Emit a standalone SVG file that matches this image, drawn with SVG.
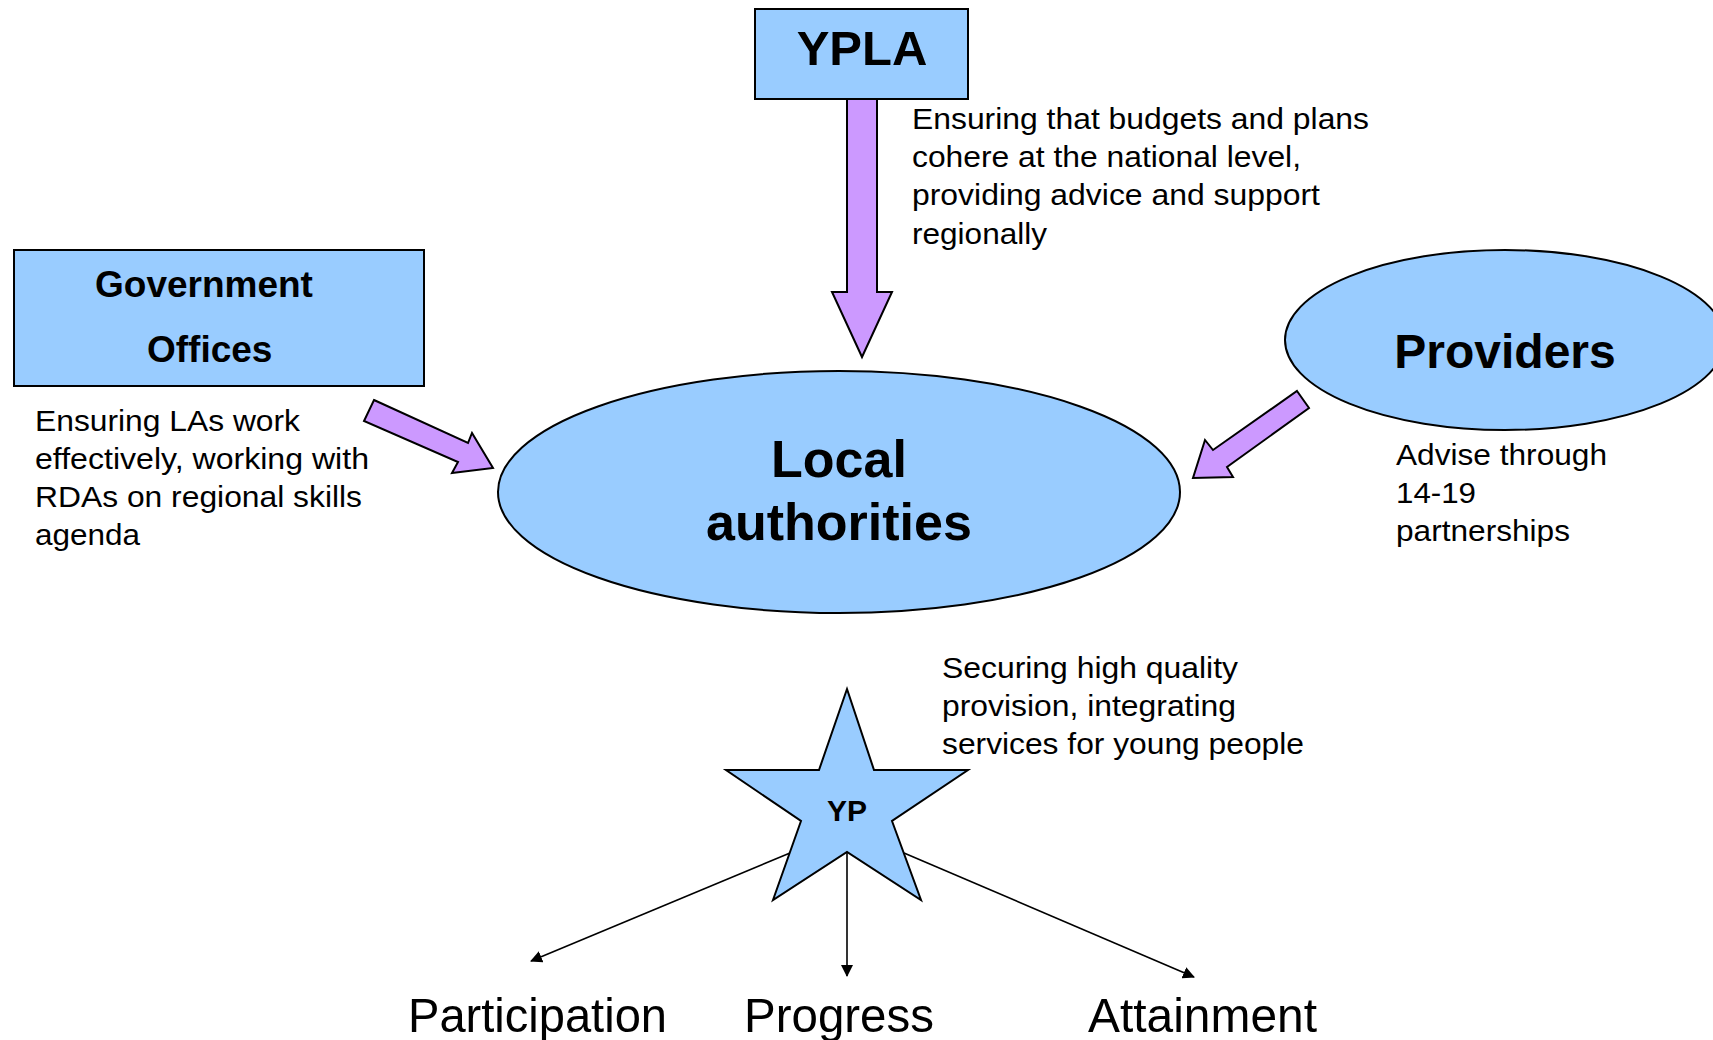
<svg xmlns="http://www.w3.org/2000/svg" width="1713" height="1040" viewBox="0 0 1713 1040">
  <style>
    .node { fill: #99CCFF; stroke: #000; stroke-width: 2; }
    .flow { fill: #CC99FF; stroke: #000; stroke-width: 2; stroke-linejoin: miter; }
    .title { font-family: "Liberation Sans", Arial, sans-serif; font-weight: bold; fill: #000; }
    .note { font-family: "Liberation Sans", Arial, sans-serif; font-size: 29px; fill: #000; }
    .outcome { font-family: "Liberation Sans", Arial, sans-serif; font-size: 49px; fill: #000; }
    .link { stroke: #000; stroke-width: 1.6; fill: none; }
  </style>
  <defs>
    <marker id="tri" viewBox="0 0 12 12" refX="11" refY="6" markerWidth="12" markerHeight="12" markerUnits="userSpaceOnUse" orient="auto">
      <path d="M0,0 L12,6 L0,12 Z" fill="#000"/>
    </marker>
  </defs>
  <rect width="1713" height="1040" fill="#fff"/>

  <!-- Connectors: broad flow arrows and outcome links -->
  <g id="connectors">
    <polygon class="flow" points="847,99 877,99 877,292 892,292 862,357 832,292 847,292"/>
    <polygon class="flow" points="374,400 468,443 472,433 493,468 452,473 458,462 364,421"/>
    <polygon class="flow" points="1297,391 1309,408 1227,467 1233,477 1193,478 1205,440 1213,450"/>
    <line class="link" x1="790" y1="853" x2="531" y2="961" marker-end="url(#tri)"/>
    <line class="link" x1="847" y1="850" x2="847" y2="976" marker-end="url(#tri)"/>
    <line class="link" x1="904" y1="853" x2="1194" y2="977" marker-end="url(#tri)"/>
  </g>

  <g id="ypla">
    <rect class="node" x="755" y="9" width="213" height="90"/>
    <text class="title" x="862" y="65" font-size="49" text-anchor="middle">YPLA</text>
  </g>
  <text class="note" x="912" y="129" textLength="457" lengthAdjust="spacingAndGlyphs">Ensuring that budgets and plans</text>
  <text class="note" x="912" y="167" textLength="389" lengthAdjust="spacingAndGlyphs">cohere at the national level,</text>
  <text class="note" x="912" y="205" textLength="408" lengthAdjust="spacingAndGlyphs">providing advice and support</text>
  <text class="note" x="912" y="244" textLength="135" lengthAdjust="spacingAndGlyphs">regionally</text>

  <g id="government-offices">
    <rect class="node" x="14" y="250" width="410" height="136"/>
    <text class="title" x="95" y="297" font-size="37">Government</text>
    <text class="title" x="147" y="362" font-size="37">Offices</text>
  </g>
  <text class="note" x="35" y="431" textLength="265" lengthAdjust="spacingAndGlyphs">Ensuring LAs work</text>
  <text class="note" x="35" y="469" textLength="334" lengthAdjust="spacingAndGlyphs">effectively, working with</text>
  <text class="note" x="35" y="507" textLength="327" lengthAdjust="spacingAndGlyphs">RDAs on regional skills</text>
  <text class="note" x="35" y="545" textLength="105" lengthAdjust="spacingAndGlyphs">agenda</text>

  <g id="providers">
    <ellipse class="node" cx="1505" cy="340" rx="220" ry="90" stroke-width="1.6"/>
    <text class="title" x="1505" y="368" font-size="48" text-anchor="middle">Providers</text>
  </g>
  <text class="note" x="1396" y="465" textLength="211" lengthAdjust="spacingAndGlyphs">Advise through</text>
  <text class="note" x="1396" y="503" textLength="80" lengthAdjust="spacingAndGlyphs">14-19</text>
  <text class="note" x="1396" y="541" textLength="174" lengthAdjust="spacingAndGlyphs">partnerships</text>

  <g id="local-authorities">
    <ellipse class="node" cx="839" cy="492" rx="341" ry="121" stroke-width="1.6"/>
    <text class="title" x="839" y="477" font-size="52" text-anchor="middle">Local</text>
    <text class="title" x="839" y="540" font-size="52" text-anchor="middle">authorities</text>
  </g>

  <g id="yp">
    <polygon class="node" points="847,689 874,770 968,770 892,821 921,900 847,852 773,900 801,821 726,770 819,770"/>
    <text class="title" x="847" y="821" font-size="30" text-anchor="middle">YP</text>
  </g>
  <text class="note" x="942" y="678" textLength="296" lengthAdjust="spacingAndGlyphs">Securing high quality</text>
  <text class="note" x="942" y="716" textLength="294" lengthAdjust="spacingAndGlyphs">provision, integrating</text>
  <text class="note" x="942" y="754" textLength="362" lengthAdjust="spacingAndGlyphs">services for young people</text>

  <g id="participation">
    <text class="outcome" x="408" y="1032" textLength="259" lengthAdjust="spacingAndGlyphs">Participation</text>
  </g>
  <g id="progress">
    <text class="outcome" x="744" y="1032" textLength="190" lengthAdjust="spacingAndGlyphs">Progress</text>
  </g>
  <g id="attainment">
    <text class="outcome" x="1088" y="1032" textLength="229" lengthAdjust="spacingAndGlyphs">Attainment</text>
  </g>
</svg>
